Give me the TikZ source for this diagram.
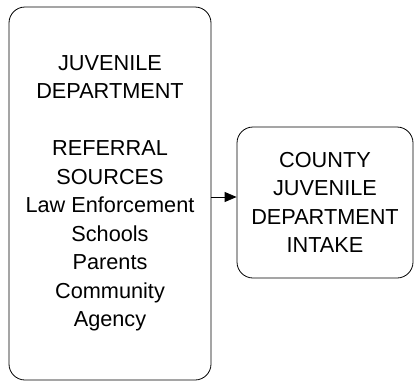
\documentclass[tikz,border=0pt]{standalone}
\usepackage{fontspec}
\setmainfont{Liberation Sans}
\usepackage{tikz}
\usetikzlibrary{arrows.meta}

\begin{document}
\begin{tikzpicture}[x=1pt,y=-1pt,
 box/.style={draw,line width=0.8pt,rounded corners=16pt,inner sep=0pt,
  align=center,font=\fontsize{21.7}{28.5}\selectfont}]
 \useasboundingbox (0,0) rectangle (415,389);
 \node[box,minimum width=202pt,minimum height=373pt] (refsrc) at (110,193.5)
  {JUVENILE\\DEPARTMENT\\[28.5pt]REFERRAL\\SOURCES\\Law Enforcement\\Schools\\Parents\\Community\\Agency};
 \node[box,minimum width=176pt,minimum height=151pt] (intake) at (325,202.5)
  {COUNTY\\JUVENILE\\DEPARTMENT\\INTAKE};
 \coordinate (arr) at (0,197);
 \draw [-{Triangle[length=12pt,width=10pt]},line width=0.8pt] (refsrc.east |- arr) -- (intake.west |- arr);
\end{tikzpicture}
\end{document}
